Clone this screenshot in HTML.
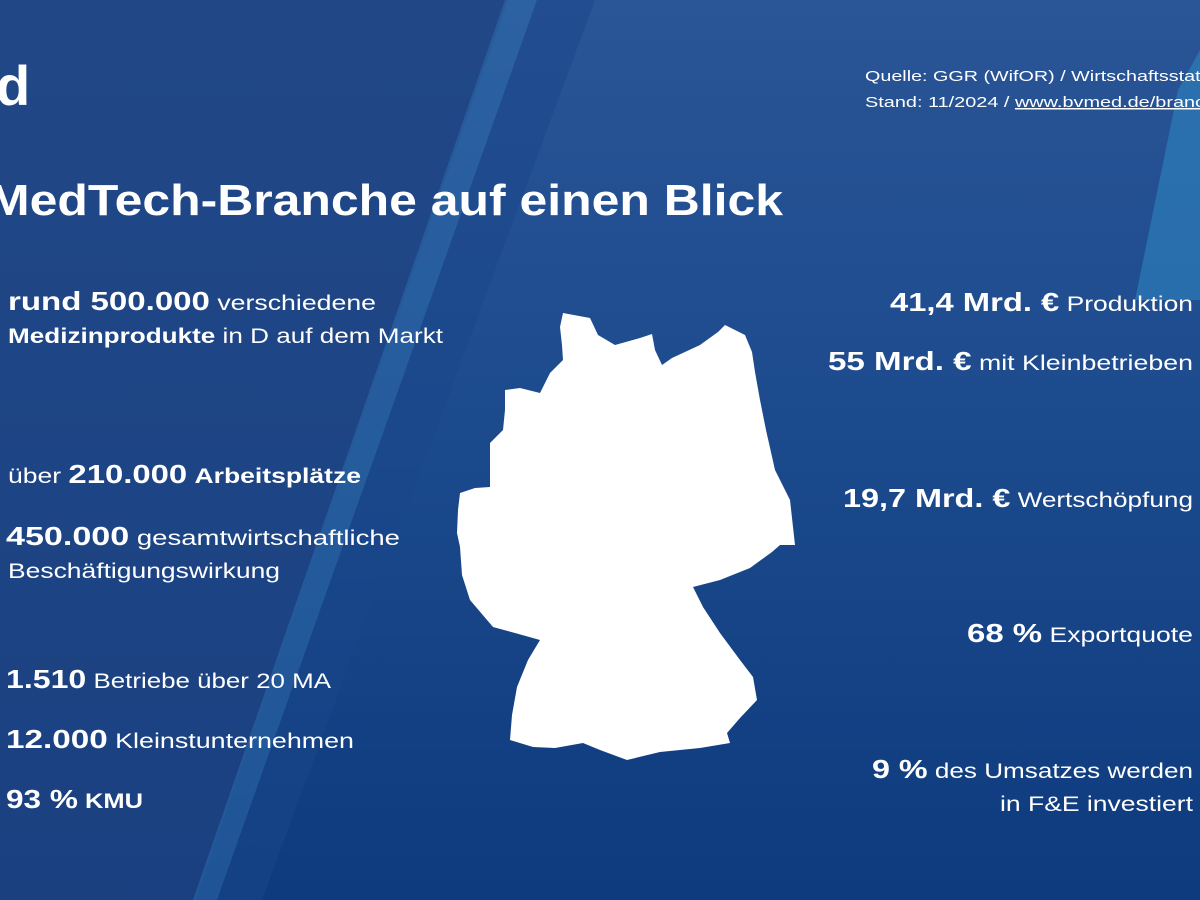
<!DOCTYPE html>
<html><head><meta charset="utf-8"><style>html,body{margin:0;padding:0;width:1200px;height:900px;overflow:hidden;background:#1a4888}</style></head><body>
<svg width="1200" height="900" viewBox="0 0 1200 900" xmlns="http://www.w3.org/2000/svg" font-family="Liberation Sans, DejaVu Sans, sans-serif" fill="#fff">
<defs>
<linearGradient id="bg" x1="0" y1="0" x2="0" y2="1">
<stop offset="0" stop-color="#2a5597"/><stop offset="0.5" stop-color="#1b4a8c"/><stop offset="1" stop-color="#0e3a7e"/></linearGradient>
</defs>
<rect width="1200" height="900" fill="url(#bg)"/>
<polygon points="0,0 508,0 195,900 0,900" fill="#1f4381" opacity="0.75"/>
<polygon points="505,0 537,0 217,900 193,900" fill="#2e6cac" opacity="0.55"/>
<polygon points="537,0 595,0 262,900 217,900" fill="#1a468a" opacity="0.5"/>
<polygon points="1178,90 1200,50 1200,300 1135,300" fill="#2e84c0" opacity="0.6"/>
<text x="-4" y="105" font-size="56" font-weight="bold">d</text>
<text x="865" y="81" font-size="15" textLength="340" lengthAdjust="spacingAndGlyphs">Quelle: GGR (WifOR) / Wirtschaftsstati</text>
<text x="865" y="107" font-size="15" textLength="340" lengthAdjust="spacingAndGlyphs">Stand: 11/2024 / <tspan text-decoration="underline">www.bvmed.de/branc</tspan></text>
<text x="-12" y="215" font-size="44" font-weight="bold" textLength="795" lengthAdjust="spacingAndGlyphs">MedTech-Branche auf einen Blick</text>
<g font-size="21">
<text x="8" y="310" textLength="368" lengthAdjust="spacingAndGlyphs"><tspan font-weight="bold" font-size="26">rund 500.000</tspan> verschiedene</text>
<text x="8" y="343" textLength="435" lengthAdjust="spacingAndGlyphs"><tspan font-weight="bold">Medizinprodukte</tspan> in D auf dem Markt</text>
<text x="8" y="483" textLength="353" lengthAdjust="spacingAndGlyphs">über <tspan font-weight="bold" font-size="26">210.000</tspan> <tspan font-weight="bold">Arbeitsplätze</tspan></text>
<text x="6" y="545" textLength="394" lengthAdjust="spacingAndGlyphs"><tspan font-weight="bold" font-size="26">450.000</tspan> gesamtwirtschaftliche</text>
<text x="8" y="578" textLength="272" lengthAdjust="spacingAndGlyphs">Beschäftigungswirkung</text>
<text x="6" y="688" textLength="325" lengthAdjust="spacingAndGlyphs"><tspan font-weight="bold" font-size="26">1.510</tspan> Betriebe über 20 MA</text>
<text x="6" y="748" textLength="348" lengthAdjust="spacingAndGlyphs"><tspan font-weight="bold" font-size="26">12.000</tspan> Kleinstunternehmen</text>
<text x="6" y="808" textLength="137" lengthAdjust="spacingAndGlyphs"><tspan font-weight="bold" font-size="26">93 %</tspan> <tspan font-weight="bold">KMU</tspan></text>
<text x="890" y="311" textLength="303" lengthAdjust="spacingAndGlyphs"><tspan font-weight="bold" font-size="26">41,4 Mrd. €</tspan> Produktion</text>
<text x="828" y="370" textLength="365" lengthAdjust="spacingAndGlyphs"><tspan font-weight="bold" font-size="26">55 Mrd. €</tspan> mit Kleinbetrieben</text>
<text x="843" y="507" textLength="350" lengthAdjust="spacingAndGlyphs"><tspan font-weight="bold" font-size="26">19,7 Mrd. €</tspan> Wertschöpfung</text>
<text x="967" y="642" textLength="226" lengthAdjust="spacingAndGlyphs"><tspan font-weight="bold" font-size="26">68 %</tspan> Exportquote</text>
<text x="872" y="778" textLength="321" lengthAdjust="spacingAndGlyphs"><tspan font-weight="bold" font-size="26">9 %</tspan> des Umsatzes werden</text>
<text x="1000" y="811" textLength="193" lengthAdjust="spacingAndGlyphs">in F&amp;E investiert</text>
</g>
<polygon points="563,313 590,318 598,335 615,345 640,338 652,334 655,350 662,365 672,358 700,345 718,332 725,325 745,335 752,352 755,372 760,400 766,430 775,470 790,500 795,545 780,545 772,552 750,568 720,580 693,587 703,607 720,633 740,660 753,677 757,700 740,718 727,733 730,743 700,748 660,752 627,760 600,750 583,743 555,748 533,747 510,740 512,715 517,687 528,660 540,640 515,633 493,627 470,600 462,575 460,547 457,533 458,510 460,493 475,488 490,487 490,465 490,443 503,430 505,410 505,390 520,388 540,393 550,373 563,360 562,345 560,327"/>
</svg>
</body></html>
